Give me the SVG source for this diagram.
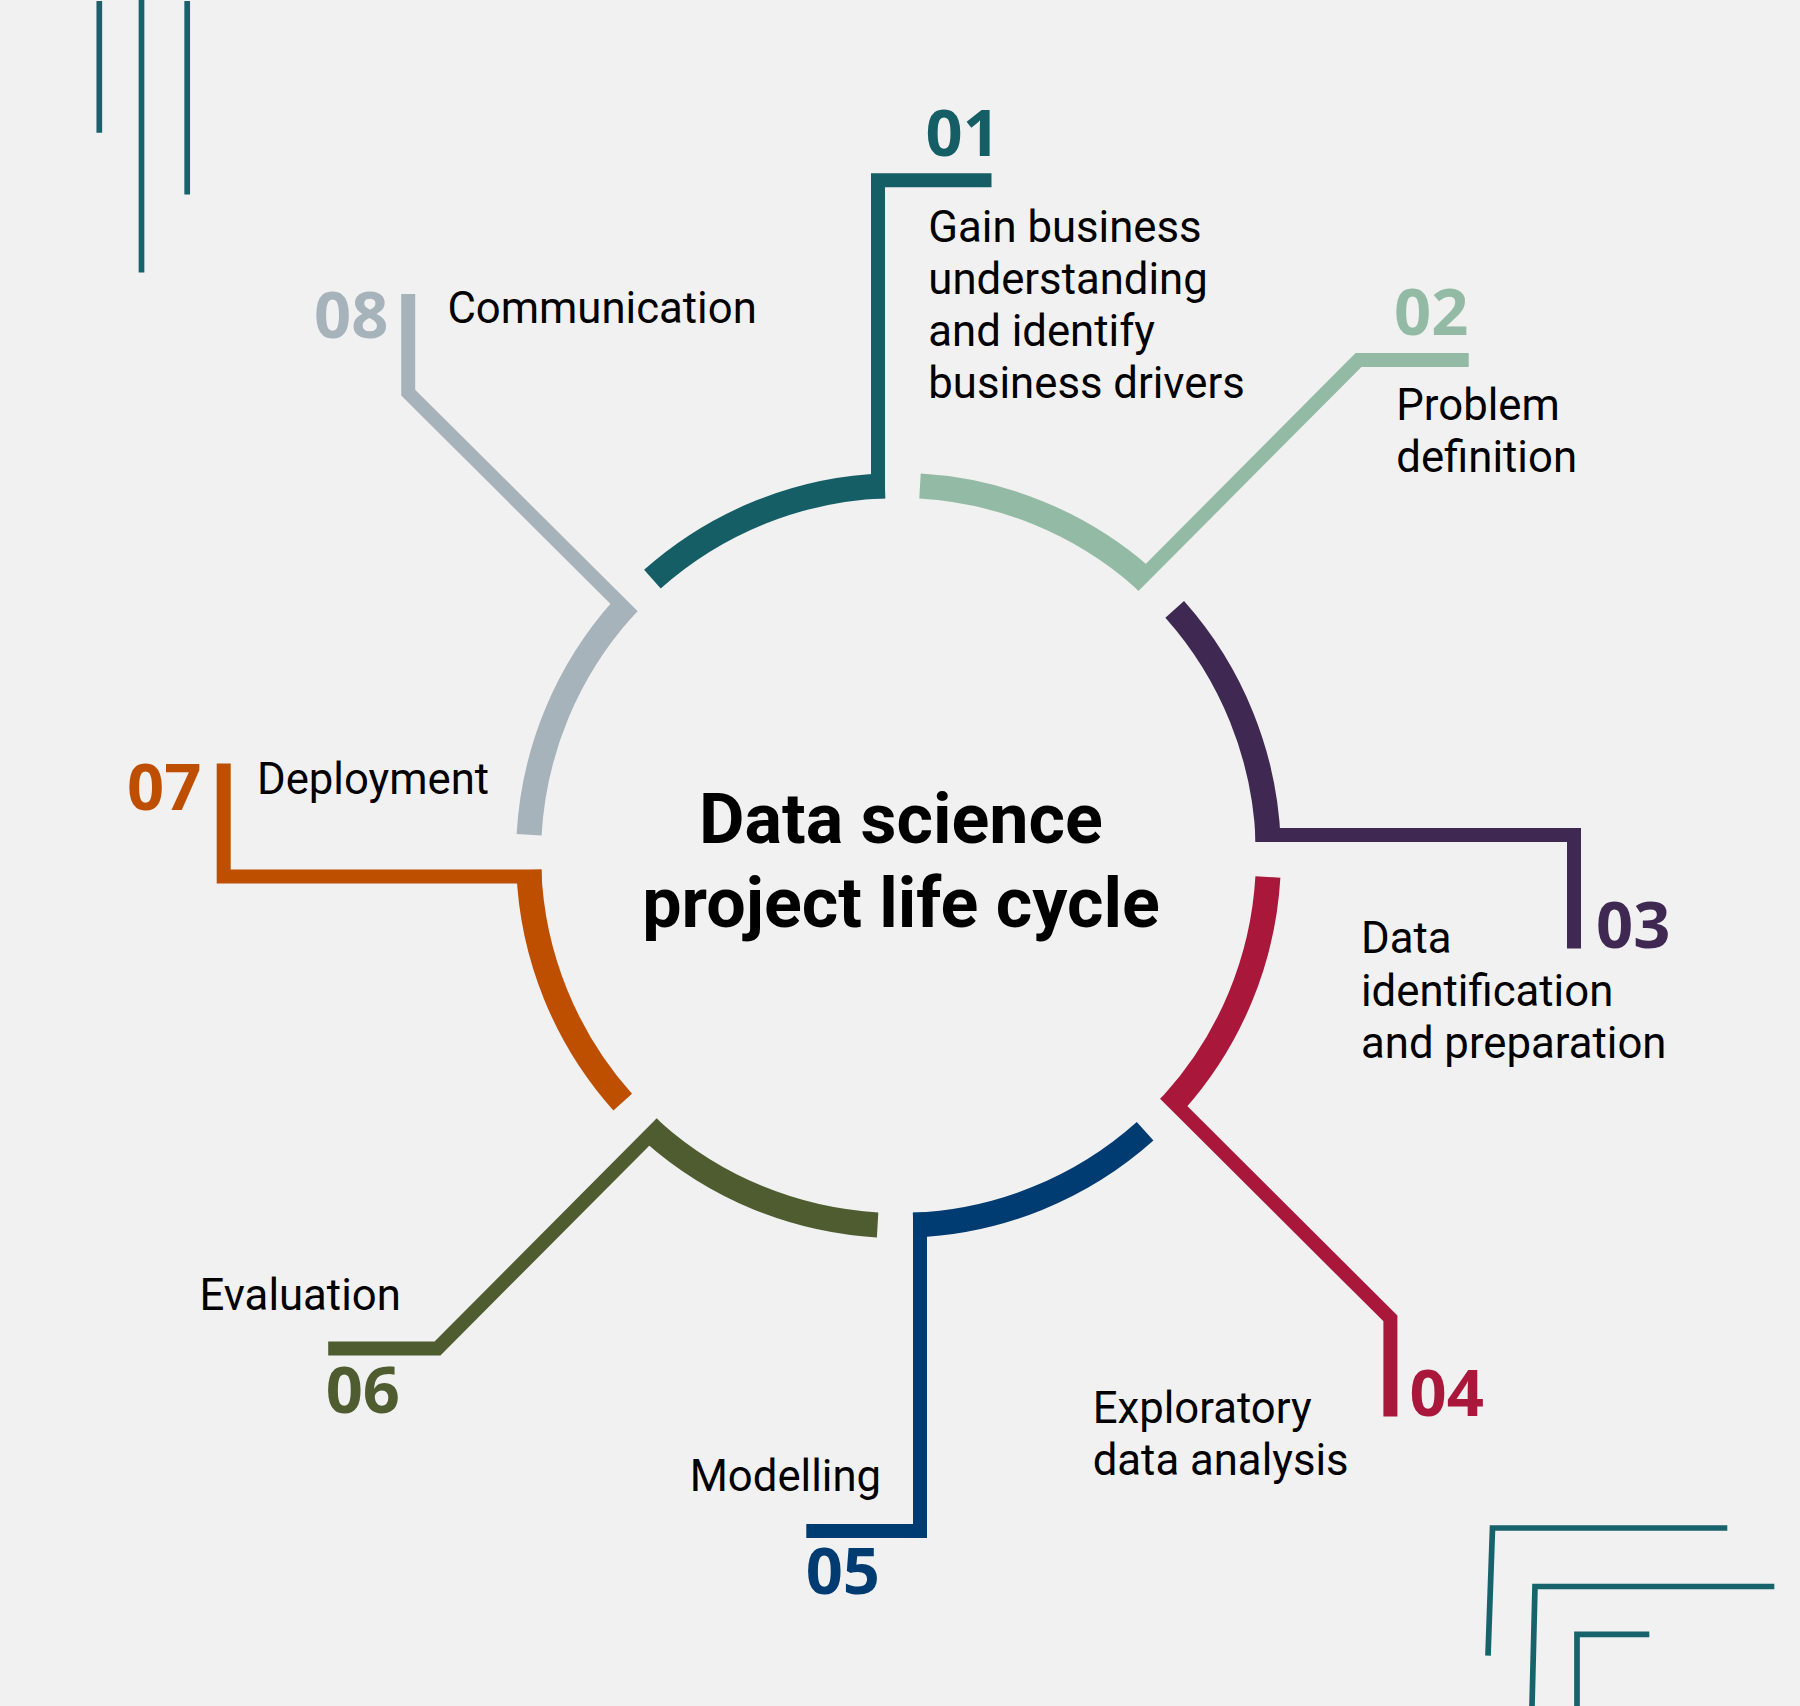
<svg xmlns="http://www.w3.org/2000/svg" width="1800" height="1706" viewBox="0 0 1800 1706">
  <style>
    path.arc { fill: none; stroke-width: 25; stroke-linecap: butt; }
    path.br { fill: none; stroke-width: 14; stroke-linecap: butt; stroke-linejoin: miter; stroke-miterlimit: 10; }
    .deco { fill: none; stroke: #17636B; stroke-width: 5.7; stroke-linecap: butt; stroke-linejoin: miter; }
    .num { font-family: "Open Sans", "DejaVu Sans", sans-serif; font-weight: 700; font-size: 65px; }
    .lbl { font-family: Roboto, "Liberation Sans", sans-serif; font-weight: 400; font-size: 43.7px; fill: #000; }
    .title { font-family: Roboto, "Liberation Sans", sans-serif; font-weight: 700; font-size: 70px; fill: #000; text-anchor: middle; }
    path.c1 { stroke: #165E65; } text.c1 { fill: #165E65; }
    path.c2 { stroke: #93BAA4; } text.c2 { fill: #93BAA4; }
    path.c3 { stroke: #3F2952; } text.c3 { fill: #3F2952; }
    path.c4 { stroke: #A9173B; } text.c4 { fill: #A9173B; }
    path.c5 { stroke: #003B71; } text.c5 { fill: #003B71; }
    path.c6 { stroke: #4E5C30; } text.c6 { fill: #4E5C30; }
    path.c7 { stroke: #BE4F00; } text.c7 { fill: #BE4F00; }
    path.c8 { stroke: #A7B3BB; } text.c8 { fill: #A7B3BB; }
  </style>
  <rect x="0" y="0" width="1800" height="1706" fill="#F1F1F1"/>

  <g id="decorations">
    <path class="deco" d="M99.3,1 V132.8"/>
    <path class="deco" d="M141.5,0 V272.5"/>
    <path class="deco" d="M187.2,1 V194.4"/>
    <path class="deco" d="M1488,1655.7 L1492.5,1528 H1727.3"/>
    <path class="deco" d="M1532,1706 L1535,1586.5 H1774.3"/>
    <path class="deco" d="M1577,1706 V1634.3 H1649.3"/>
  </g>

  <g id="title">
    <text class="title" x="901" y="843">Data science</text>
    <text class="title" x="901" y="927">project life cycle</text>
  </g>

  <g id="step-01">
    <path class="arc c1" d="M652.4,579.2 A370,370 0 0 1 884.9,485.75"/>
    <path class="br c1" d="M878,498.5 V180.3 H991.5"/>
    <text class="num c1" x="925.5" y="156">01</text>
    <text class="lbl" x="928.3" y="242">Gain business<tspan x="928.3" y="294">understanding</tspan><tspan x="928.3" y="346">and identify</tspan><tspan x="928.3" y="398">business drivers</tspan></text>
  </g>

  <g id="step-02">
    <path class="arc c2" d="M920,486.1 A370,370 0 0 1 1141.9,576.8"/>
    <path class="br c2" d="M1133.5,586.1 L1358.5,360 H1468.7"/>
    <text class="num c2" x="1394" y="335">02</text>
    <text class="lbl" x="1396.3" y="420">Problem<tspan x="1396.3" y="472">definition</tspan></text>
  </g>

  <g id="step-03">
    <path class="arc c3" d="M1174.7,609.4 A370,370 0 0 1 1268.2,841.5"/>
    <path class="br c3" d="M1255.4,835 H1574 V948.6"/>
    <text class="num c3" x="1596" y="948">03</text>
    <text class="lbl" x="1361" y="953">Data<tspan x="1361" y="1006">identification</tspan><tspan x="1361" y="1058">and preparation</tspan></text>
  </g>

  <g id="step-04">
    <path class="arc c4" d="M1267.9,877 A370,370 0 0 1 1174.3,1102.1"/>
    <path class="br c4" d="M1165,1093.8 L1390.4,1318.4 V1416.5"/>
    <text class="num c4" x="1409.5" y="1416">04</text>
    <text class="lbl" x="1092.7" y="1423">Exploratory<tspan x="1092.7" y="1475">data analysis</tspan></text>
  </g>

  <g id="step-05">
    <path class="arc c5" d="M1145.1,1131.3 A370,370 0 0 1 913.3,1225.2"/>
    <path class="br c5" d="M920,1212.4 V1531 H806.3"/>
    <text class="num c5" x="805.7" y="1594">05</text>
    <text class="lbl" x="689.7" y="1491">Modelling</text>
  </g>

  <g id="step-06">
    <path class="arc c6" d="M877.6,1224.9 A370,370 0 0 1 653.3,1132.6"/>
    <path class="br c6" d="M661.7,1123.3 L437.5,1348.5 H328.2"/>
    <text class="num c6" x="325.7" y="1412.5">06</text>
    <text class="lbl" x="199.5" y="1310">Evaluation</text>
  </g>

  <g id="step-07">
    <path class="arc c7" d="M622.7,1102.1 A370,370 0 0 1 528.8,870"/>
    <path class="br c7" d="M541.6,876.5 H223.7 V763.4"/>
    <text class="num c7" x="127" y="810">07</text>
    <text class="lbl" x="257" y="794">Deployment</text>
  </g>

  <g id="step-08">
    <path class="arc c8" d="M529.1,834.8 A370,370 0 0 1 623.5,607.9"/>
    <path class="br c8" d="M632.8,616.3 L408.2,392.6 V294"/>
    <text class="num c8" x="314" y="337.5">08</text>
    <text class="lbl" x="447.4" y="322.7">Communication</text>
  </g>
</svg>
